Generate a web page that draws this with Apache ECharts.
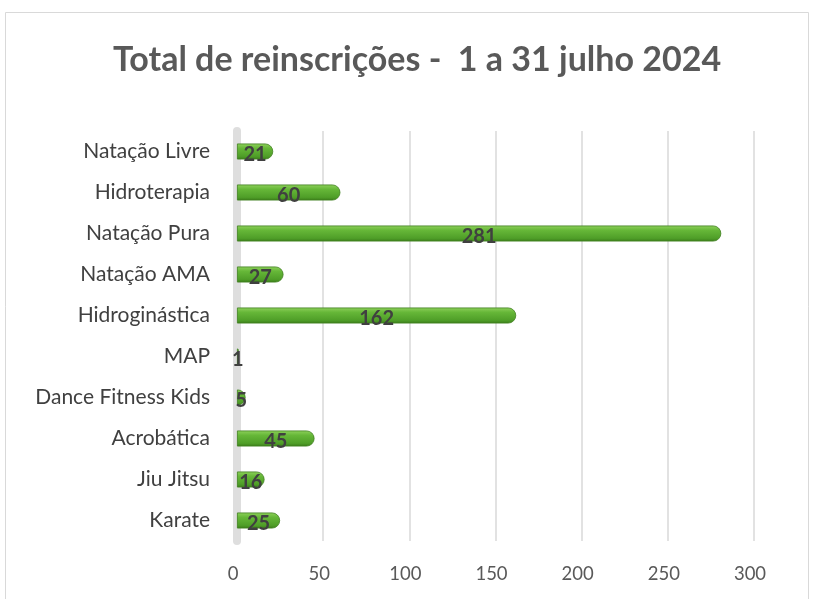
<!DOCTYPE html>
<html>
<head>
<meta charset="utf-8">
<script src="https://cdn.jsdelivr.net/npm/echarts@6/dist/echarts.min.js"></script>
<style>
  html, body { margin: 0; padding: 0; background: #fff; }
  #chart { width: 813px; height: 599px; }
</style>
</head>
<body>
<div id="chart"></div>
<script>
// categories from bottom to top (category axis starts at the bottom)
var categories = ['Karate', 'Jiu Jitsu', 'Acrobática', 'Dance Fitness Kids', 'MAP',
  'Hidroginástica', 'Natação AMA', 'Natação Pura', 'Hidroterapia', 'Natação Livre'];
var values = [25, 16, 45, 5, 1, 162, 27, 281, 60, 21];
var xTicks = [0, 50, 100, 150, 200, 250, 300];

var chart = echarts.init(document.getElementById('chart'));

var option = {
  backgroundColor: '#fff',
  animation: false,
  title: {
    text: 'Total de reinscrições -  1 a 31 julho 2024',
    left: 108,
    top: 38,
    textStyle: {
      fontFamily: 'Lato',
      fontWeight: 'bold',
      fontSize: 34,
      color: '#595959'
    }
  },
  graphic: [{
    type: 'rect',
    shape: { x: 5.5, y: 12.5, width: 803, height: 600 },
    style: { fill: 'none', stroke: '#d9d9d9', lineWidth: 1 },
    silent: true
  }],
  grid: {
    left: 237,
    right: 59,
    top: 131,
    bottom: 58
  },
  xAxis: {
    type: 'value',
    min: xTicks[0],
    max: xTicks[xTicks.length - 1],
    interval: 50,
    axisLine: { show: false },
    axisTick: { show: false },
    axisLabel: {
      margin: 24,
      fontFamily: 'Lato',
      fontSize: 18.5,
      color: '#595959',
      padding: [0, 8, 0, 0]
    },
    splitLine: { lineStyle: { color: '#d9d9d9', width: 1.5 } }
  },
  yAxis: {
    type: 'category',
    data: categories,
    axisLine: { show: true, lineStyle: { color: '#dedede', width: 8 } },
    axisTick: { show: false },
    axisLabel: {
      margin: 27,
      fontFamily: 'Lato',
      fontSize: 21,
      color: '#404040'
    }
  },
  series: [{
    type: 'bar',
    data: values,
    barWidth: 16,
    itemStyle: {
      borderRadius: [0, 8, 8, 0],
      borderColor: '#3f7f1e',
      borderWidth: 0.8,
      color: new echarts.graphic.LinearGradient(0, 0, 0, 1, [
        { offset: 0, color: '#8fd15c' },
        { offset: 0.3, color: '#66b738' },
        { offset: 0.8, color: '#4f9e28' },
        { offset: 1, color: '#3b7d1a' }
      ])
    },
    label: {
      show: true,
      position: 'inside',
      fontFamily: 'Lato',
      fontWeight: 'bold',
      fontSize: 20,
      color: '#404040',
      offset: [0, 3]
    }
  }]
};

chart.setOption(option);
</script>
</body>
</html>
